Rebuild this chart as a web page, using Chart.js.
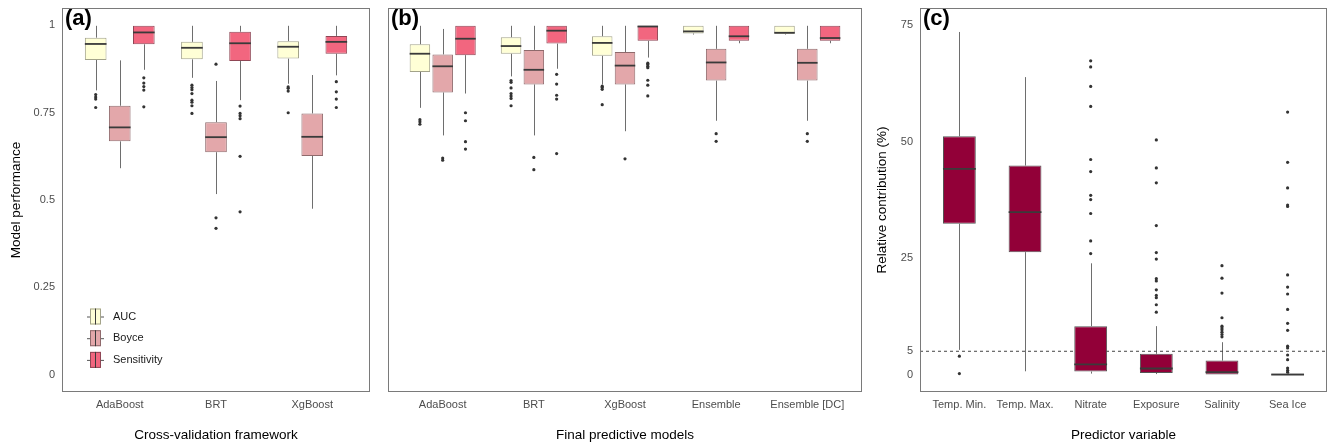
<!DOCTYPE html>
<html>
<head>
<meta charset="utf-8">
<script src="https://cdn.jsdelivr.net/npm/chart.js@4.4.1/dist/chart.umd.min.js"></script>
<style>
  html, body { margin: 0; padding: 0; background: #fff; }
  #wrap { position: relative; width: 1331px; height: 446px; }
  canvas { position: absolute; top: 0; }
</style>
</head>
<body>
<div id="wrap">
  <canvas id="chartA" width="376" height="446" style="left:0px"></canvas>
  <canvas id="chartB" width="490" height="446" style="left:376px"></canvas>
  <canvas id="chartC" width="465" height="446" style="left:866px"></canvas>
</div>
<script>
// box summaries: [lower whisker, Q1, median, Q3, upper whisker]

// (a) cross-validation
const cvModels = ['AdaBoost', 'BRT', 'XgBoost'];
const cvAUC = [[0.814, 0.901, 0.947, 0.965, 0.999], [0.850, 0.903, 0.936, 0.953, 0.999], [0.833, 0.905, 0.939, 0.955, 0.999]];
const cvAUCOut = [[0.802, 0.795, 0.789, 0.765], [0.829, 0.822, 0.816, 0.805, 0.786, 0.780, 0.770, 0.748], [0.824, 0.820, 0.812, 0.750]];
const cvBoyce = [[0.591, 0.668, 0.708, 0.770, 0.900], [0.517, 0.637, 0.680, 0.723, 0.841], [0.475, 0.626, 0.681, 0.748, 0.858]];
const cvBoyceOut = [[], [0.889, 0.449, 0.419], []];
const cvSens = [[0.873, 0.946, 0.980, 0.999, 0.999], [0.786, 0.898, 0.949, 0.982, 0.999], [0.857, 0.919, 0.953, 0.970, 0.999]];
const cvSensOut = [[0.850, 0.835, 0.825, 0.815, 0.767], [0.769, 0.748, 0.741, 0.733, 0.625, 0.466], [0.839, 0.810, 0.789, 0.765]];

// (b) final models
const finalModels = ['AdaBoost', 'BRT', 'XgBoost', 'Ensemble', 'Ensemble [DC]'];
const fmAUC = [[0.764, 0.867, 0.919, 0.946, 0.999], [0.854, 0.919, 0.941, 0.966, 0.999], [0.831, 0.913, 0.950, 0.969, 0.999], [0.974, 0.977, 0.983, 0.999, 0.999], [0.974, 0.976, 0.979, 0.999, 0.999]];
const fmAUCOut = [[0.730, 0.724, 0.717], [0.842, 0.837, 0.821, 0.805, 0.798, 0.791, 0.770], [0.826, 0.822, 0.817, 0.773], [], []];
const fmBoyce = [[0.685, 0.808, 0.883, 0.917, 0.990], [0.685, 0.831, 0.873, 0.930, 0.999], [0.697, 0.831, 0.885, 0.924, 0.999], [0.727, 0.842, 0.894, 0.933, 0.999], [0.727, 0.842, 0.893, 0.933, 0.999]];
const fmBoyceOut = [[0.620, 0.614], [0.622, 0.587], [0.618], [0.690, 0.668], [0.690, 0.668]];
const fmSens = [[0.805, 0.915, 0.962, 0.999, 0.999], [0.876, 0.948, 0.985, 0.999, 0.999], [0.908, 0.956, 0.997, 0.999, 0.999], [0.949, 0.956, 0.969, 0.999, 0.999], [0.949, 0.956, 0.964, 0.999, 0.999]];
const fmSensOut = [[0.750, 0.727, 0.667, 0.646], [0.860, 0.832, 0.800, 0.789, 0.633], [0.892, 0.888, 0.883, 0.879, 0.843, 0.829, 0.798], [], []];

// (c) predictor contribution (%)
const predictors = ['Temp. Min.', 'Temp. Max.', 'Nitrate', 'Exposure', 'Salinity', 'Sea Ice'];
const contrib = [[5.3, 32.4, 44.2, 51.2, 73.6], [0.7, 26.3, 34.9, 44.9, 63.9], [0.2, 0.65, 2.2, 10.4, 23.9], [0.1, 0.35, 1.3, 4.45, 10.4], [0, 0, 0.5, 3.0, 6.95], [0, 0, 0, 0.2, 0.5]];
const contribOut = [
    [3.95, 0.2],
    [],
    [67.4, 66.1, 61.9, 57.6, 46.2, 43.6, 38.5, 37.6, 34.6, 28.7, 26.0],
    [50.4, 44.4, 41.2, 32.0, 26.2, 24.8, 20.6, 20.1, 18.2, 17.0, 16.5, 15.0, 13.4],
    [23.4, 20.7, 17.5, 12.2, 10.4, 10.0, 9.6, 9.1, 8.6, 8.1],
    [56.4, 45.6, 40.1, 36.4, 36.1, 21.4, 18.8, 17.3, 14.0, 11.0, 9.5, 6.1, 5.7, 4.2, 3.2, 1.4, 0.9, 0.5]
];
const thresholdLine = 5;

const perfTicks = [0, 0.25, 0.5, 0.75, 1];
const contribTicks = [0, 5, 25, 50, 75];

const FONT = "'Liberation Sans', Arial, Helvetica, sans-serif";
const seriesColors = {
    AUC: { fill: '#FFFFD6', line: '#A3A38A' },
    Boyce: { fill: '#E3A7AA', line: '#8F6A6C' },
    Sensitivity: { fill: '#F2667F', line: '#8F4655' }
};

// floating bar for the box (Q1..Q3), stats kept for whiskers/median
function boxDataset(label, stats, offset, fill, line) {
    return {
        type: 'bar',
        label: label,
        data: stats.map((s, i) => ({ x: i + 1 + offset, y: [s[1], s[3]] })),
        stats: stats,
        backgroundColor: fill,
        borderColor: line,
        borderWidth: 1,
        borderSkipped: false,
        grouped: false,
        categoryPercentage: 1,
        barPercentage: 0.9
    };
}

function outlierDataset(outs, offset) {
    const pts = [];
    outs.forEach((list, i) => list.forEach(v => pts.push({ x: i + 1 + offset, y: v })));
    return {
        type: 'scatter',
        data: pts,
        pointRadius: 1.6,
        pointBackgroundColor: '#333333',
        pointBorderWidth: 0
    };
}

// whiskers under the boxes, medians on top
const boxParts = {
    id: 'boxParts',
    beforeDatasetsDraw(chart) {
        const ctx = chart.ctx;
        const y = chart.scales.y;
        chart.data.datasets.forEach((ds, di) => {
            if (!ds.stats) return;
            const meta = chart.getDatasetMeta(di);
            ctx.save();
            ctx.strokeStyle = '#6e6e6e';
            ctx.lineWidth = 1;
            meta.data.forEach((bar, i) => {
                const s = ds.stats[i];
                const x = Math.round(bar.x) + 0.5;
                ctx.beginPath();
                ctx.moveTo(x, y.getPixelForValue(s[4]));
                ctx.lineTo(x, y.getPixelForValue(s[3]));
                ctx.moveTo(x, y.getPixelForValue(s[1]));
                ctx.lineTo(x, y.getPixelForValue(s[0]));
                ctx.stroke();
            });
            ctx.restore();
        });
    },
    afterDatasetsDraw(chart) {
        const ctx = chart.ctx;
        const y = chart.scales.y;
        chart.data.datasets.forEach((ds, di) => {
            if (!ds.stats) return;
            const meta = chart.getDatasetMeta(di);
            ctx.save();
            ctx.strokeStyle = '#3a3a3a';
            ctx.lineWidth = 1.8;
            meta.data.forEach((bar, i) => {
                const yy = y.getPixelForValue(ds.stats[i][2]);
                ctx.beginPath();
                ctx.moveTo(bar.x - bar.width / 2, yy);
                ctx.lineTo(bar.x + bar.width / 2, yy);
                ctx.stroke();
            });
            ctx.restore();
        });
    }
};

// panel frame + tag like (a)
const panelFrame = {
    id: 'panelFrame',
    afterDraw(chart, args, opts) {
        const ctx = chart.ctx;
        const a = chart.chartArea;
        ctx.save();
        ctx.strokeStyle = '#7a7a7a';
        ctx.lineWidth = 1;
        ctx.strokeRect(a.left + 0.5, a.top + 0.5, a.right - a.left - 1, a.bottom - a.top - 1);
        if (opts.tag) {
            ctx.fillStyle = '#000';
            ctx.font = 'bold 22px ' + FONT;
            ctx.textBaseline = 'alphabetic';
            ctx.textAlign = 'left';
            ctx.fillText(opts.tag, a.left + 3, a.top + 17);
        }
        ctx.restore();
    }
};

// legend with small boxplot keys, inside panel (a)
const boxLegend = {
    id: 'boxLegend',
    afterDraw(chart, args, opts) {
        if (!opts.show) return;
        const ctx = chart.ctx;
        const a = chart.chartArea;
        const boxes = chart.data.datasets.filter(d => d.stats);
        ctx.save();
        boxes.forEach((ds, i) => {
            const cy = a.bottom - 75.5 + i * 21.7;
            const x0 = a.left + 28;
            ctx.fillStyle = ds.backgroundColor;
            ctx.fillRect(x0, cy - 8, 11, 16);
            ctx.strokeStyle = ds.borderColor;
            ctx.lineWidth = 1;
            ctx.strokeRect(x0 + 0.5, cy - 7.5, 10, 15);
            ctx.strokeStyle = '#555';
            ctx.beginPath();
            ctx.moveTo(x0 - 3, cy + 0.5); ctx.lineTo(x0, cy + 0.5);
            ctx.moveTo(x0 + 11, cy + 0.5); ctx.lineTo(x0 + 14, cy + 0.5);
            ctx.stroke();
            ctx.strokeStyle = '#3a3a3a';
            ctx.beginPath();
            ctx.moveTo(x0 + 5.5, cy - 8); ctx.lineTo(x0 + 5.5, cy + 8);
            ctx.stroke();
            ctx.fillStyle = '#1a1a1a';
            ctx.font = '11px ' + FONT;
            ctx.textBaseline = 'middle';
            ctx.fillText(ds.label, x0 + 23, cy);
        });
        ctx.restore();
    }
};

function xAxis(cats, title) {
    return {
        type: 'linear',
        offset: false,
        min: 0.4,
        max: cats.length + 0.6,
        grid: { display: false, drawTicks: false },
        border: { display: false },
        afterBuildTicks: s => { s.ticks = cats.map((c, i) => ({ value: i + 1 })); },
        afterFit: s => { s.height = 54; s.paddingLeft = 0; s.paddingRight = 0; },
        ticks: {
            autoSkip: false,
            maxRotation: 0,
            padding: 6,
            color: '#4d4d4d',
            font: { family: FONT, size: 11 },
            callback: (v, i) => cats[i]
        },
        title: {
            display: true,
            text: title,
            color: '#000',
            font: { family: FONT, size: 13.5 },
            padding: { top: 0, bottom: 3 }
        }
    };
}

function yAxis(min, max, tickVals, width, title, show) {
    return {
        type: 'linear',
        display: show,
        min: min,
        max: max,
        grid: { display: false, drawTicks: false },
        border: { display: false },
        afterBuildTicks: s => { s.ticks = tickVals.map(v => ({ value: v })); },
        afterFit: s => { s.width = width; s.paddingTop = 0; s.paddingBottom = 0; },
        ticks: {
            padding: 7,
            color: '#4d4d4d',
            font: { family: FONT, size: 11 },
            callback: v => String(v)
        },
        title: {
            display: !!title,
            text: title || '',
            color: '#000',
            font: { family: FONT, size: 13.5 },
            padding: { top: 8, bottom: 0 }
        }
    };
}

function renderChart(id, datasets, xScale, yScale, padding, tag, legend) {
    return new Chart(document.getElementById(id).getContext('2d'), {
        type: 'bar',
        data: { datasets: datasets },
        options: {
            responsive: false,
            animation: false,
            events: [],
            layout: { padding: padding },
            scales: { x: xScale, y: yScale },
            plugins: {
                legend: { display: false },
                tooltip: { enabled: false },
                panelFrame: { tag: tag },
                boxLegend: { show: legend }
            }
        },
        plugins: [boxParts, panelFrame, boxLegend]
    });
}

// (a)
renderChart('chartA', [
    boxDataset('AUC', cvAUC, -0.25, seriesColors.AUC.fill, seriesColors.AUC.line),
    boxDataset('Boyce', cvBoyce, 0, seriesColors.Boyce.fill, seriesColors.Boyce.line),
    boxDataset('Sensitivity', cvSens, 0.25, seriesColors.Sensitivity.fill, seriesColors.Sensitivity.line),
    outlierDataset(cvAUCOut, -0.25),
    outlierDataset(cvBoyceOut, 0),
    outlierDataset(cvSensOut, 0.25)
], xAxis(cvModels, 'Cross-validation framework'),
   yAxis(-0.05, 1.05, perfTicks, 62, 'Model performance', true),
   { top: 8, right: 6, bottom: 0, left: 0 }, '(a)', true);

// (b)
renderChart('chartB', [
    boxDataset('AUC', fmAUC, -0.25, seriesColors.AUC.fill, seriesColors.AUC.line),
    boxDataset('Boyce', fmBoyce, 0, seriesColors.Boyce.fill, seriesColors.Boyce.line),
    boxDataset('Sensitivity', fmSens, 0.25, seriesColors.Sensitivity.fill, seriesColors.Sensitivity.line),
    outlierDataset(fmAUCOut, -0.25),
    outlierDataset(fmBoyceOut, 0),
    outlierDataset(fmSensOut, 0.25)
], xAxis(finalModels, 'Final predictive models'),
   yAxis(-0.05, 1.05, perfTicks, 0, '', false),
   { top: 8, right: 4, bottom: 0, left: 12 }, '(b)', false);

// (c)
const contribBox = boxDataset('Contribution', contrib, 0, '#920038', '#555555');
contribBox.barPercentage = 0.5;
renderChart('chartC', [
    contribBox,
    outlierDataset(contribOut, 0),
    {
        type: 'line',
        data: [{ x: 0.4, y: thresholdLine }, { x: predictors.length + 0.6, y: thresholdLine }],
        borderColor: '#444444',
        borderWidth: 1,
        borderDash: [3, 3],
        pointRadius: 0
    }
], xAxis(predictors, 'Predictor variable'),
   yAxis(-3.75, 78.75, contribTicks, 54, 'Relative contribution (%)', true),
   { top: 8, right: 2, bottom: 0, left: 0 }, '(c)', false);
</script>
</body>
</html>
